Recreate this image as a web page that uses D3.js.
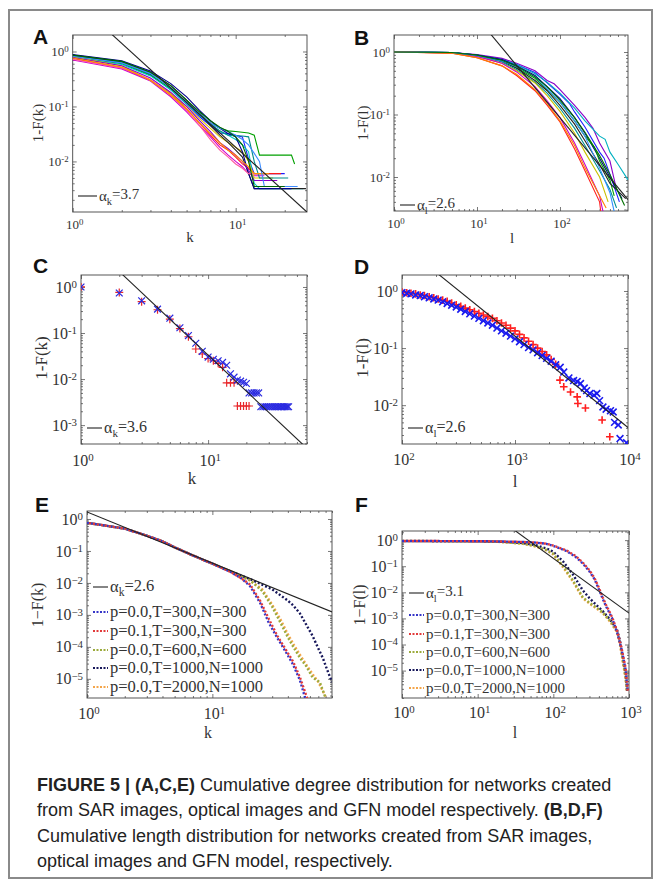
<!DOCTYPE html>
<html>
<head>
<meta charset="utf-8">
<script src="https://cdn.jsdelivr.net/npm/d3@7"></script>
<style>
body { margin: 0; background: #fff; }
svg { display: block; }
</style>
</head>
<body>
<svg id="fig" width="661" height="882"></svg>
<script>
// ---------- data ----------

// A: cumulative degree distribution, SAR networks, [k, 1-F(k)]
var colorsA = ["#1c1cff","#00a000","#ff1a1a","#00c8c8","#d000d0","#e0c800","#222222",
               "#00008c","#8a00c8","#008c8c","#ff5aa0","#ff9000","#3c8cff","#006400"];
var seriesA = [
  [[1,0.85],[2,0.62],[3,0.38],[4,0.2],[5,0.11],[6,0.065],[7,0.045],[8,0.033],[9,0.032],[10,0.03],[11,0.028],[12,0.011],[13,0.006],[20,0.006]],
  [[1,0.8],[2,0.6],[3,0.37],[4,0.21],[5,0.12],[6,0.075],[7,0.05],[8,0.04],[9,0.036],[10,0.035],[12,0.033],[13,0.03],[14,0.013],[22,0.013],[23,0.009]],
  [[1,0.75],[2,0.5],[3,0.3],[4,0.17],[5,0.09],[6,0.05],[7,0.03],[8,0.02],[9,0.016],[10,0.012],[11,0.009],[12,0.0075],[13,0.006],[19,0.006]],
  [[1,0.78],[2,0.58],[3,0.36],[4,0.2],[5,0.11],[6,0.07],[7,0.048],[8,0.035],[9,0.03],[10,0.025],[11,0.02],[12,0.015],[13,0.004],[14,0.0032],[26,0.0032]],
  [[1,0.7],[2,0.48],[3,0.29],[4,0.15],[5,0.08],[6,0.045],[7,0.028],[8,0.018],[9,0.013],[10,0.01],[11,0.008],[12,0.006],[13,0.0055],[15,0.0055]],
  [[1,0.8],[2,0.55],[3,0.3],[4,0.17],[5,0.1],[6,0.06],[7,0.04],[8,0.028],[9,0.022],[10,0.018],[11,0.015],[12,0.01],[13,0.005],[17,0.005]],
  [[1,0.85],[2,0.65],[3,0.42],[4,0.24],[5,0.13],[6,0.075],[7,0.045],[8,0.03],[9,0.022],[10,0.016],[11,0.012],[12,0.006],[13,0.0032],[27,0.0032]],
  [[1,0.88],[2,0.68],[3,0.44],[4,0.26],[5,0.15],[6,0.085],[7,0.055],[8,0.04],[9,0.032],[10,0.028],[11,0.015],[12,0.006],[13,0.0032],[22,0.0032]],
  [[1,0.78],[2,0.55],[3,0.33],[4,0.18],[5,0.1],[6,0.055],[7,0.035],[8,0.022],[9,0.017],[10,0.013],[11,0.01],[12,0.007],[13,0.0045],[18,0.0045]],
  [[1,0.83],[2,0.62],[3,0.4],[4,0.22],[5,0.12],[6,0.07],[7,0.048],[8,0.036],[9,0.03],[11,0.029],[12,0.028],[13,0.01],[14,0.005],[21,0.005]],
  [[1,0.72],[2,0.5],[3,0.31],[4,0.16],[5,0.085],[6,0.045],[7,0.025],[8,0.016],[9,0.012],[10,0.009],[11,0.0075],[12,0.006],[14,0.006]],
  [[1,0.76],[2,0.52],[3,0.3],[4,0.16],[5,0.09],[6,0.05],[7,0.032],[8,0.022],[9,0.016],[10,0.013],[11,0.01],[12,0.008],[13,0.006],[16,0.006]],
  [[1,0.82],[2,0.62],[3,0.4],[4,0.22],[5,0.12],[6,0.075],[7,0.05],[8,0.04],[9,0.035],[10,0.03],[11,0.025],[12,0.02],[13,0.014],[14,0.01],[15,0.0035],[24,0.0035]],
  [[1,0.86],[2,0.66],[3,0.42],[4,0.24],[5,0.13],[6,0.08],[7,0.055],[8,0.042],[9,0.035],[10,0.028],[11,0.02],[12,0.01],[13,0.0035],[20,0.0035]]
];

// B: cumulative length distribution, SAR networks, [l, 1-F(l)]
var colorsB = ["#8a00c8","#2020ff","#00b0c0","#000080","#00a000","#222222","#009090",
               "#c8c000","#c800c8","#ff2020","#ff8000","#3090ff","#007000"];
var seriesB = [
  [[1,1],[5,0.98],[10,0.91],[20,0.79],[30,0.66],[50,0.5],[70,0.35],[85,0.31],[100,0.25],[150,0.14],[200,0.09],[250,0.06],[300,0.035],[400,0.018],[480,0.0063]],
  [[1,1],[5,0.98],[10,0.89],[20,0.76],[30,0.63],[50,0.47],[70,0.32],[100,0.21],[130,0.15],[150,0.11],[200,0.063],[300,0.025],[340,0.02],[400,0.011],[520,0.004]],
  [[1,1],[5,0.98],[10,0.89],[20,0.76],[30,0.63],[50,0.45],[70,0.33],[100,0.22],[150,0.126],[200,0.079],[300,0.045],[350,0.04],[400,0.025],[500,0.016],[660,0.009]],
  [[1,1],[5,0.98],[10,0.89],[20,0.76],[30,0.6],[50,0.42],[70,0.28],[100,0.18],[150,0.089],[200,0.05],[300,0.02],[400,0.01],[560,0.0045]],
  [[1,1],[5,0.98],[10,0.87],[20,0.72],[30,0.56],[50,0.38],[70,0.25],[100,0.158],[150,0.079],[200,0.045],[260,0.03],[300,0.018],[400,0.0089],[450,0.005]],
  [[1,1],[5,0.98],[10,0.87],[20,0.71],[30,0.55],[50,0.35],[70,0.24],[100,0.14],[150,0.07],[200,0.038],[300,0.0158],[400,0.0079],[620,0.0045]],
  [[1,1],[5,0.98],[10,0.87],[20,0.69],[30,0.52],[50,0.33],[70,0.22],[100,0.126],[150,0.06],[200,0.032],[300,0.0126],[400,0.0063],[480,0.0032]],
  [[1,1],[5,0.97],[10,0.85],[20,0.66],[30,0.5],[50,0.32],[70,0.2],[100,0.112],[150,0.05],[200,0.025],[300,0.01],[380,0.004]],
  [[1,1],[5,0.97],[10,0.85],[20,0.66],[30,0.48],[50,0.28],[70,0.166],[100,0.089],[150,0.035],[200,0.0158],[300,0.005],[330,0.0028]],
  [[1,1],[5,0.96],[10,0.81],[20,0.6],[30,0.42],[50,0.24],[70,0.141],[100,0.076],[150,0.028],[200,0.0126],[300,0.004],[310,0.0028]],
  [[1,1],[5,0.96],[10,0.81],[20,0.6],[30,0.44],[50,0.25],[70,0.15],[100,0.079],[150,0.032],[200,0.014],[300,0.005],[360,0.0032]],
  [[1,1],[5,0.98],[10,0.87],[20,0.72],[30,0.58],[50,0.4],[70,0.26],[100,0.158],[150,0.079],[200,0.045],[300,0.014],[400,0.0056],[450,0.0028]],
  [[1,1],[5,0.98],[10,0.89],[20,0.74],[30,0.59],[50,0.4],[70,0.28],[100,0.17],[150,0.089],[200,0.052],[300,0.022],[400,0.011],[600,0.0035]]
];

// C: degree distribution, optical images (red "+" and blue "x")
var degRedC = [[1,1.0],[2,0.76],[3,0.48],[4,0.32],[5,0.2],[6,0.125],[7,0.083],[8,0.045],[9,0.035],[10,0.028],
  [11,0.025],[12,0.022],[13,0.018],[14,0.0083],[15,0.0083],[16,0.0083],[17,0.0026],[18,0.0026],[19,0.0026],[20,0.0026],[21,0.0026]];
var degBlueC = [[1,1.0],[2,0.74],[3,0.5],[4,0.33],[5,0.21],[6,0.13],[7,0.088],[8,0.06],[9,0.04],[10,0.03],
  [11,0.027],[12,0.025],[13,0.023],[14,0.02],[15,0.013],[16,0.011],[17,0.0095],[18,0.009],[19,0.0085],[20,0.008],
  [21,0.005],[22,0.005],[23,0.005],[24,0.005],[25,0.005],[26,0.0025],[27,0.0025],[28,0.0025],[29,0.0025],[30,0.0025],
  [31,0.0025],[32,0.0025],[33,0.0025],[34,0.0025],[35,0.0025],[36,0.0025],[37,0.0025],[38,0.0025],[39,0.0025],[40,0.0025],
  [41,0.0025],[42,0.0025],[43,0.0025]];

// D: length distribution, optical images
var lenRedD = [[100,0.955],[110,0.933],[120,0.912],[132,0.891],[145,0.851],[158,0.832],[174,0.794],[191,0.759],[209,0.724],
  [229,0.692],[251,0.661],[275,0.617],[302,0.575],[331,0.537],[363,0.501],[398,0.468],[437,0.437],[479,0.407],[525,0.38],
  [575,0.355],[631,0.331],[692,0.302],[759,0.275],[832,0.251],[912,0.224],[1000,0.2],[1096,0.174],[1202,0.151],[1318,0.132],
  [1445,0.115],[1585,0.1],[1738,0.087],[1905,0.076],[2089,0.063],[2291,0.052],
  [2500,0.0275],[2700,0.021],[3100,0.017],[3550,0.014],[3600,0.0107],[4200,0.0089],[5900,0.0055],[6900,0.0028]];
var lenBlueD = [[100,0.933],[110,0.912],[120,0.891],[132,0.851],[145,0.832],[158,0.794],[174,0.759],[191,0.724],[209,0.692],
  [229,0.646],[251,0.603],[275,0.562],[302,0.525],[331,0.479],[363,0.437],[398,0.398],[437,0.363],[479,0.331],[525,0.302],
  [575,0.275],[631,0.251],[692,0.224],[759,0.2],[832,0.182],[912,0.162],[1000,0.145],[1096,0.129],[1202,0.115],[1318,0.102],
  [1445,0.093],[1585,0.083],[1738,0.074],[1905,0.066],[2089,0.059],[2291,0.051],[2512,0.046],
  [2700,0.038],[3000,0.03],[3300,0.027],[3550,0.026],[3800,0.024],[4100,0.02],[4300,0.018],[4600,0.016],[5000,0.015],
  [5300,0.016],[5600,0.012],[6000,0.0093],[6400,0.0085],[7000,0.008],[7400,0.0076],[7600,0.005],[8200,0.0045],
  [8500,0.0026],[9700,0.0022]];

// E, F: GFN model runs
var gfnLabels = ["p=0.0,T=300,N=300","p=0.1,T=300,N=300","p=0.0,T=600,N=600","p=0.0,T=1000,N=1000","p=0.0,T=2000,N=1000"];
var gfnColors = ["#3535c8","#e23a3a","#9cab3c","#17175a","#f4a54a"];
var degE = [
  [[1,0.76],[2,0.5],[3,0.3],[4,0.2],[5,0.13],[7,0.072],[10,0.04],[14,0.022],[17,0.014],[20,0.0079],[24,0.0024],[28,6.0e-4],[33,1.9e-4],[38,7.6e-5],[44,2.8e-5],[50,8.9e-6],[55,2.5e-6]],
  [[1,0.76],[2,0.5],[3,0.3],[4,0.2],[5,0.13],[7,0.072],[10,0.04],[14,0.022],[17,0.014],[20,0.0089],[24,0.0028],[28,7.9e-4],[33,2.2e-4],[38,8.9e-5],[44,3.5e-5],[50,1.1e-5],[57,2.5e-6]],
  [[1,0.76],[2,0.5],[3,0.3],[4,0.2],[5,0.13],[7,0.072],[10,0.04],[14,0.023],[20,0.012],[25,0.0056],[30,0.0018],[35,5.6e-4],[40,2.0e-4],[45,8.9e-5],[50,4.5e-5],[56,2.5e-5],[63,1.1e-5],[72,7.9e-6],[80,2.5e-6]],
  [[1,0.76],[2,0.5],[3,0.3],[4,0.2],[5,0.13],[7,0.072],[10,0.04],[14,0.023],[20,0.0132],[30,0.0063],[40,0.0028],[44,0.002],[50,0.0011],[56,5.0e-4],[63,2.2e-4],[70,8.9e-5],[76,4.5e-5],[82,2.0e-5],[90,7.9e-6]],
  [[1,0.76],[2,0.5],[3,0.3],[4,0.2],[5,0.13],[7,0.072],[10,0.04],[14,0.023],[20,0.012],[25,0.0063],[30,0.0021],[35,7.1e-4],[40,2.5e-4],[45,1.1e-4],[50,5.6e-5],[56,2.8e-5],[63,1.4e-5],[70,7.9e-6],[80,2.8e-6]]
];
var lenF = [
  [[1,0.93],[10,0.91],[20,0.89],[40,0.85],[60,0.8],[81,0.72],[100,0.6],[150,0.38],[200,0.22],[250,0.12],[300,0.063],[350,0.032],[400,0.013],[450,0.0056],[500,0.0028],[600,0.001],[700,2.8e-4],[800,6.3e-5],[900,1.1e-5],[960,1.6e-6]],
  [[1,0.93],[10,0.91],[20,0.89],[40,0.85],[60,0.8],[81,0.73],[100,0.62],[150,0.4],[200,0.24],[250,0.13],[300,0.07],[350,0.035],[400,0.015],[450,0.0063],[500,0.0032],[600,0.0011],[700,3.2e-4],[800,7.0e-5],[900,1.3e-5],[970,1.6e-6]],
  [[1,0.93],[10,0.9],[20,0.86],[40,0.74],[60,0.58],[81,0.42],[100,0.3],[135,0.1],[180,0.03],[245,0.0065],[300,0.004],[372,0.0026],[450,0.0017],[562,8.3e-4],[692,3.4e-4],[760,1.2e-4],[832,2.3e-5],[900,6.0e-6],[940,1.6e-6]],
  [[1,0.92],[10,0.9],[20,0.87],[40,0.77],[60,0.63],[81,0.48],[100,0.36],[135,0.15],[180,0.05],[245,0.012],[300,0.006],[372,0.0032],[450,0.0019],[562,9.0e-4],[692,3.8e-4],[760,1.4e-4],[832,3.0e-5],[900,7.0e-6],[945,1.6e-6]],
  [[1,0.94],[10,0.9],[20,0.85],[40,0.72],[60,0.56],[81,0.4],[100,0.28],[135,0.09],[180,0.027],[245,0.006],[300,0.0037],[372,0.0024],[450,0.0016],[562,7.5e-4],[692,3.0e-4],[760,1.0e-4],[832,2.0e-5],[900,5.0e-6],[935,1.6e-6]]
];

// power-law fits: exponent alpha and one point the fitted line passes through
var fitAlpha = [3.7, 2.6, 3.6, 2.6, 2.6, 3.1];
var fitPoint = [[10,0.0182],[100,0.089],[10,0.033],[1000,0.162],[10,0.0417],[100,0.2]];

var captionLines = [
  [["FIGURE 5 | (A,C,E)", true], [" Cumulative degree distribution for networks created", false]],
  [["from SAR images, optical images and GFN model respectively. ", false], ["(B,D,F)", true]],
  [["Cumulative length distribution for networks created from SAR images,", false]],
  [["optical images and GFN model, respectively.", false]]
];

// ---------- drawing ----------
var serif = "'Liberation Serif','Times New Roman',serif";
var sans = "'Liberation Sans',Arial,sans-serif";
var svg = d3.select("#fig");

svg.append("rect").attr("x", 9).attr("y", 10).attr("width", 643).attr("height", 868)
  .attr("fill", "none").attr("stroke", "#8a8a8a").attr("stroke-width", 2);

function pow10Label(sel, e, minus) {
  sel.append("tspan").text("10");
  sel.append("tspan").attr("dy", "-0.45em").attr("font-size", "0.68em")
    .text(e < 0 ? minus + Math.abs(e) : e);
}

function minorTicks(dom) {
  var out = [];
  var lo = Math.floor(Math.log10(dom[0])), hi = Math.ceil(Math.log10(dom[1]));
  for (var d = lo; d <= hi; d++)
    for (var m = 2; m <= 9; m++) {
      var v = m * Math.pow(10, d);
      if (v >= dom[0] && v <= dom[1]) out.push(v);
    }
  return out;
}

function panel(p) {
  var x = d3.scaleLog().domain(p.xd).range([p.x0, p.x1]);
  var y = d3.scaleLog().domain(p.yd).range([p.y1, p.y0]);
  var g = svg.append("g");
  svg.append("clipPath").attr("id", "clip" + p.id).append("rect")
    .attr("x", p.x0).attr("y", p.y0).attr("width", p.x1 - p.x0).attr("height", p.y1 - p.y0);

  var xMaj = p.xt.map(function(e) { return Math.pow(10, e); });
  var yMaj = p.yt.map(function(e) { return Math.pow(10, e); });
  var axes = [
    [d3.axisBottom(x), "translate(0," + p.y1 + ")", xMaj, minorTicks(p.xd)],
    [d3.axisTop(x), "translate(0," + p.y0 + ")", xMaj, minorTicks(p.xd)],
    [d3.axisLeft(y), "translate(" + p.x0 + ",0)", yMaj, minorTicks(p.yd)],
    [d3.axisRight(y), "translate(" + p.x1 + ",0)", yMaj, minorTicks(p.yd)]
  ];
  axes.forEach(function(a) {
    [[a[2], 4], [a[3], 2]].forEach(function(t) {
      var ax = g.append("g").attr("transform", a[1])
        .call(a[0].tickValues(t[0]).tickSize(-t[1]).tickSizeOuter(0).tickFormat(""));
      ax.select(".domain").remove();
      ax.selectAll("line").attr("stroke", "#555").attr("stroke-width", 0.8);
    });
  });
  g.append("rect").attr("x", p.x0).attr("y", p.y0).attr("width", p.x1 - p.x0).attr("height", p.y1 - p.y0)
    .attr("fill", "none").attr("stroke", "#444").attr("stroke-width", 0.9);

  p.xt.forEach(function(e) {
    var t = g.append("text").attr("x", x(Math.pow(10, e)) + 2).attr("y", p.y1 + p.xtDy)
      .attr("text-anchor", "middle").attr("font-family", serif).attr("font-size", p.fs).attr("fill", "#333");
    pow10Label(t, e, p.minus);
  });
  p.yt.forEach(function(e) {
    var t = g.append("text").attr("x", p.x0 - 4).attr("y", y(Math.pow(10, e)) + p.fs * 0.35)
      .attr("text-anchor", "end").attr("font-family", serif).attr("font-size", p.fs).attr("fill", "#333");
    pow10Label(t, e, p.minus);
  });

  g.append("text").attr("x", p.xl[0]).attr("y", p.xl[1]).attr("text-anchor", "middle")
    .attr("font-family", serif).attr("font-size", p.ls).attr("fill", "#333").text(p.xlab);
  g.append("text").attr("transform", "translate(" + p.yl[0] + "," + p.yl[1] + ") rotate(-90)")
    .attr("text-anchor", "middle").attr("font-family", serif).attr("font-size", p.ls).attr("fill", "#333").text(p.ylab);
  g.append("text").attr("x", p.letter[0]).attr("y", p.letter[1]).attr("font-family", sans)
    .attr("font-weight", "bold").attr("font-size", 21).attr("fill", "#111").text(p.id);

  var plot = g.append("g").attr("clip-path", "url(#clip" + p.id + ")");
  return { g: g, plot: plot, x: x, y: y };
}

function fitLine(P, i) {
  var a = fitAlpha[i], ref = fitPoint[i], xd = P.x.domain();
  var pts = xd.map(function(v) { return [v, ref[1] * Math.pow(v / ref[0], 1 - a)]; });
  P.plot.append("line").attr("x1", P.x(pts[0][0])).attr("y1", P.y(pts[0][1]))
    .attr("x2", P.x(pts[1][0])).attr("y2", P.y(pts[1][1]))
    .attr("stroke", "#222").attr("stroke-width", 1.1);
}

function alphaLegend(P, x, yc, sub, val, fs, len) {
  len = len || 15;
  P.g.append("line").attr("x1", x).attr("x2", x + len).attr("y1", yc).attr("y2", yc)
    .attr("stroke", "#222").attr("stroke-width", 1.1);
  var t = P.g.append("text").attr("x", x + len + 2).attr("y", yc + fs * 0.33)
    .attr("font-family", serif).attr("font-size", fs).attr("fill", "#333");
  t.append("tspan").text("α");
  t.append("tspan").attr("dy", "0.35em").attr("font-size", "0.7em").text(sub);
  t.append("tspan").attr("dy", "-0.35em").text("=" + val);
}

function markerPath(kind, s) {
  return kind === "plus" ? "M" + (-s) + ",0H" + s + "M0," + (-s) + "V" + s
                         : "M" + (-s) + "," + (-s) + "L" + s + "," + s + "M" + (-s) + "," + s + "L" + s + "," + (-s);
}

function markers(P, pts, kind, color, s, w) {
  P.plot.selectAll(null).data(pts).enter().append("path")
    .attr("transform", function(d) { return "translate(" + P.x(d[0]) + "," + P.y(d[1]) + ")"; })
    .attr("d", markerPath(kind, s)).attr("fill", "none").attr("stroke", color).attr("stroke-width", w);
}

var solid = function(P) {
  return d3.line().x(function(d) { return P.x(d[0]); }).y(function(d) { return P.y(d[1]); });
};

// ---- A ----
var PA = panel({ id: "A", x0: 72.7, x1: 307, y0: 35, y1: 212, xd: [1, 27.4], yd: [Math.pow(10, -2.92), Math.pow(10, 0.3)],
  xt: [0, 1], yt: [0, -1, -2], fs: 13, ls: 15, minus: "-", xtDy: 17, xlab: "k", ylab: "1-F(k)",
  xl: [190, 242], yl: [43, 123], letter: [33, 44] });
seriesA.forEach(function(s, i) {
  PA.plot.append("path").attr("d", solid(PA)(s)).attr("fill", "none")
    .attr("stroke", colorsA[i]).attr("stroke-width", 1.1);
});
fitLine(PA, 0);
alphaLegend(PA, 78, 196, "k", "3.7", 15, 19);

// ---- B ----
var PB = panel({ id: "B", x0: 394, x1: 628, y0: 35, y1: 211, xd: [1, 660], yd: [Math.pow(10, -2.544), Math.pow(10, 0.272)],
  xt: [0, 1, 2], yt: [0, -1, -2], fs: 13, ls: 15, minus: "-", xtDy: 17, xlab: "l", ylab: "1-F(l)",
  xl: [512, 243], yl: [368, 123], letter: [354, 45] });
seriesB.forEach(function(s, i) {
  PB.plot.append("path").attr("d", solid(PB)(s)).attr("fill", "none")
    .attr("stroke", colorsB[i]).attr("stroke-width", 1.1);
});
fitLine(PB, 1);
alphaLegend(PB, 400, 205, "l", "2.6", 15);

// ---- C ----
var PC = panel({ id: "C", x0: 81, x1: 307, y0: 275, y1: 444, xd: [1, 60], yd: [Math.pow(10, -3.41), Math.pow(10, 0.26)],
  xt: [0, 1], yt: [0, -1, -2, -3], fs: 16, ls: 17, minus: "-", xtDy: 22, xlab: "k", ylab: "1-F(k)",
  xl: [192, 484], yl: [47, 358], letter: [33, 273] });
markers(PC, degRedC, "plus", "#e8262a", 4, 1.2);
markers(PC, degBlueC, "cross", "#2a2ae0", 3.4, 1.2);
fitLine(PC, 2);
alphaLegend(PC, 87, 428, "k", "3.6", 16);

// ---- D ----
var PD = panel({ id: "D", x0: 402, x1: 628, y0: 275, y1: 444, xd: [100, 10000], yd: [Math.pow(10, -2.68), Math.pow(10, 0.28)],
  xt: [2, 3, 4], yt: [0, -1, -2], fs: 16, ls: 17, minus: "-", xtDy: 21, xlab: "l", ylab: "1-F(l)",
  xl: [515, 487], yl: [368, 358], letter: [354, 274] });
markers(PD, lenRedD, "plus", "#ff1f1f", 3.8, 1.6);
markers(PD, lenBlueD, "cross", "#1a1aee", 3.4, 1.6);
fitLine(PD, 3);
alphaLegend(PD, 408, 428, "l", "2.6", 16);

// ---- E, F (dotted GFN curves) ----
function gfnPanel(P, data, fitIdx, sub, val, lx, ly, rows, fs) {
  var order = [3, 4, 2, 0, 1];
  order.forEach(function(i) {
    P.plot.append("path").attr("d", solid(P)(data[i])).attr("fill", "none")
      .attr("stroke", gfnColors[i]).attr("stroke-width", 2.4)
      .attr("stroke-dasharray", "2,2").attr("stroke-dashoffset", (i % 2) * 2);
  });
  fitLine(P, fitIdx);
  alphaLegend(P, lx, ly, sub, val, fs);
  gfnLabels.forEach(function(lab, i) {
    P.g.append("line").attr("x1", lx).attr("x2", lx + 15).attr("y1", rows[i]).attr("y2", rows[i])
      .attr("stroke", gfnColors[i]).attr("stroke-width", 2).attr("stroke-dasharray", "2,1.5");
    P.g.append("text").attr("x", lx + 17).attr("y", rows[i] + fs * 0.33)
      .attr("font-family", serif).attr("font-size", fs).attr("fill", "#333").text(lab);
  });
}

var PE = panel({ id: "E", x0: 87, x1: 332, y0: 511, y1: 698, xd: [1, 90], yd: [Math.pow(10, -5.6), Math.pow(10, 0.25)],
  xt: [0, 1], yt: [0, -1, -2, -3, -4, -5], fs: 16, ls: 16, minus: "−", xtDy: 21, xlab: "k", ylab: "1−F(k)",
  xl: [208, 738], yl: [43, 605], letter: [35, 512] });
gfnPanel(PE, degE, 4, "k", "2.6", 93, 587, [612, 631, 650, 668, 687], 16.5);

var PF = panel({ id: "F", x0: 402, x1: 629, y0: 531, y1: 698, xd: [1, 1000], yd: [Math.pow(10, -6.05), Math.pow(10, 0.35)],
  xt: [0, 1, 2, 3], yt: [0, -1, -2, -3, -4, -5], fs: 16, ls: 16, minus: "−", xtDy: 20, xlab: "l", ylab: "1−F(l)",
  xl: [515, 738], yl: [365, 605], letter: [355, 512] });
gfnPanel(PF, lenF, 5, "l", "3.1", 409, 593, [615, 634, 652, 670, 688], 15);

// ---- caption ----
var cap = svg.append("g").attr("font-family", sans).attr("font-size", 18).attr("fill", "#222");
captionLines.forEach(function(line, i) {
  var t = cap.append("text").attr("x", 37).attr("y", 791 + i * 25.4);
  line.forEach(function(part) {
    t.append("tspan").attr("font-weight", part[1] ? "bold" : "normal").text(part[0]);
  });
});
</script>
</body>
</html>
